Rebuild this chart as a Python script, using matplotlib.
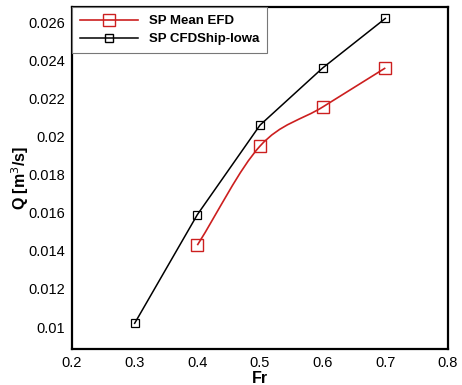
import numpy as np
import matplotlib
matplotlib.use('Agg')
import matplotlib.pyplot as plt
from matplotlib.path import Path
from matplotlib.patches import PathPatch
from matplotlib.lines import Line2D

plt.rcParams['font.family'] = ['Liberation Sans', 'DejaVu Sans']

fr_efd = [0.4, 0.5, 0.6, 0.7]
q_efd = [0.01430, 0.01950, 0.02155, 0.02360]
fr_cfd = [0.3, 0.4, 0.5, 0.6, 0.7]
q_cfd = [0.01020, 0.01590, 0.02060, 0.02360, 0.02620]

xticks = [0.2, 0.3, 0.4, 0.5, 0.6, 0.7, 0.8]
yticks = [0.01, 0.012, 0.014, 0.016, 0.018, 0.02, 0.022, 0.024, 0.026]
red = '#cc1f1f'


def smooth_path(x, y):
    # catmull-rom through the points, written as cubic bezier segments
    x = np.asarray(x); y = np.asarray(y)
    px = np.concatenate([[2 * x[0] - x[1]], x, [2 * x[-1] - x[-2]]])
    py = np.concatenate([[2 * y[0] - y[1]], y, [2 * y[-1] - y[-2]]])
    verts = [(x[0], y[0])]
    codes = [Path.MOVETO]
    for i in range(1, len(px) - 2):
        c1 = (px[i] + (px[i + 1] - px[i - 1]) / 6, py[i] + (py[i + 1] - py[i - 1]) / 6)
        c2 = (px[i + 1] - (px[i + 2] - px[i]) / 6, py[i + 1] - (py[i + 2] - py[i]) / 6)
        verts += [c1, c2, (px[i + 1], py[i + 1])]
        codes += [Path.CURVE4] * 3
    return Path(verts, codes)


fig = plt.figure(figsize=(4.62, 3.85), dpi=100)
ax = fig.add_axes([72 / 462, 36 / 385, 376 / 462, 342 / 385])

ax.add_patch(PathPatch(smooth_path(fr_efd, q_efd), fill=False, edgecolor=red, lw=1.2))
ax.plot(fr_efd, q_efd, ls='none', marker='s', ms=8, mfc='none', mec=red, mew=1.0)
ax.plot(fr_cfd, q_cfd, color='black', lw=1.1, marker='s', ms=5.5, mfc='none', mec='black', mew=0.9)

ax.set_xlim(0.2, 0.8)
ax.set_ylim(0.00885, 0.0268)
ax.set_xticks(xticks)
ax.set_xticklabels([f'{v:g}' for v in xticks])
ax.set_yticks(yticks)
ax.set_yticklabels([f'{v:g}' for v in yticks])
ax.tick_params(length=0, labelsize=10.5, pad=5)
for s in ax.spines.values():
    s.set_linewidth(1.6)

ax.set_xlabel('Fr', fontsize=11.5, fontweight='bold', labelpad=1)
ax.set_ylabel('Q [m$^3$/s]', fontsize=11.5, fontweight='bold', labelpad=-2)

handles = [
    Line2D([], [], color=red, lw=1.2, marker='s', ms=8, mfc='none', mec=red),
    Line2D([], [], color='black', lw=1.1, marker='s', ms=5.5, mfc='none', mec='black'),
]
leg = ax.legend(handles, ['SP Mean EFD', 'SP CFDShip-Iowa'], loc='upper left',
                prop={'weight': 'bold', 'size': 9.5}, fancybox=False, framealpha=1,
                edgecolor='#777777', borderaxespad=0, handlelength=4.4,
                handletextpad=0.8, labelspacing=0.45, borderpad=0.6)
leg.get_frame().set_linewidth(0.8)

fig.savefig('out.png', dpi=100)
plt.close(fig)
